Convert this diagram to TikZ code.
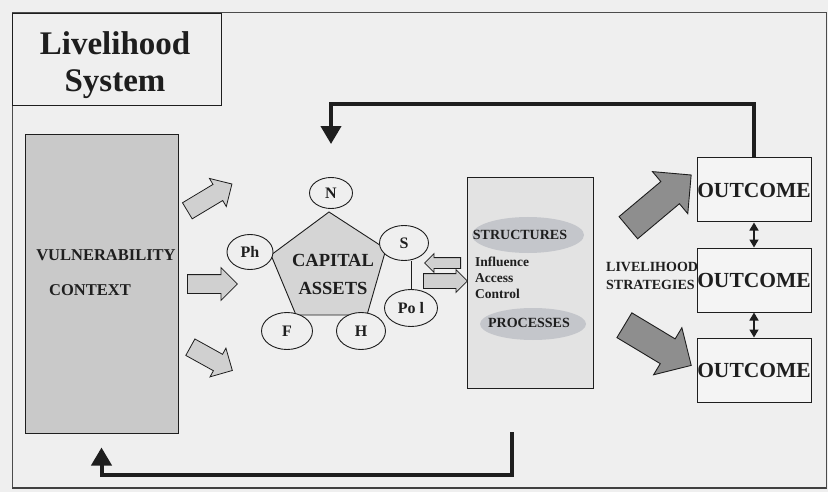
\documentclass[tikz,border=0pt]{standalone}
\usepackage{fontspec}
\setmainfont{Liberation Serif}
\usetikzlibrary{shapes.arrows,shapes.geometric,arrows.meta,calc}
\definecolor{bg}{HTML}{EFEFEF}
\definecolor{vulnfill}{HTML}{C9C9C9}
\definecolor{structfill}{HTML}{E3E3E3}
\definecolor{ellfill}{HTML}{C4C6CB}
\definecolor{pentfill}{HTML}{D5D5D5}
\definecolor{smallarrow}{HTML}{D0D0D0}
\definecolor{bigarrow}{HTML}{8E8E8E}
\definecolor{outfill}{HTML}{F4F4F4}
\definecolor{ink}{HTML}{1E1E1E}
\begin{document}
\begin{tikzpicture}[x=1pt,y=-1pt,
  every node/.style={inner sep=0pt, text=ink},
  fs/.style={font=\fontsize{#1}{#1}\selectfont\bfseries},
  asset/.style={ellipse, draw=ink, line width=0.9pt, fill=bg, fs=16},
  box/.style={draw=ink, line width=1pt},
  sarrow/.style={single arrow, draw=ink, line width=0.8pt, fill=smallarrow, minimum width=1pt, single arrow head extend=#1},
  barrow/.style={single arrow, draw=ink, line width=0.9pt, fill=bigarrow, minimum width=1pt, inner ysep=14pt, single arrow head extend=13pt},
  fb/.style={line width=4pt, draw=ink, -{Triangle[width=20pt,length=18pt]}},
  dbl/.style={line width=1.6pt, draw=ink, {Triangle[width=9pt,length=8pt]}-{Triangle[width=9pt,length=8pt]}}
]
\useasboundingbox (0,0) rectangle (828,492);
\fill[bg] (0,0) rectangle (828,492);

% outer frame and title box
\draw[line width=1pt, draw=ink!80] (12,13) rectangle (826,488);
\draw[line width=2.5pt, draw=ink!85] (12,488) -- (826,488);
\node[box, anchor=north west, minimum width=209pt, minimum height=92pt] (title) at (12,13) {};
\node[fs=33, anchor=base] (t1) at (115,55) {Livelihood};
\node[fs=33, anchor=base] (t2) at (115,92) {System};

% vulnerability context
\node[box, fill=vulnfill, minimum width=153pt, minimum height=298pt] (vuln) at (101.5,284) {};
\node[fs=16.5] (vt1) at (106,255) {VULNERABILITY};
\node[fs=16.5] (vt2) at (90,290) {CONTEXT};

% small arrows from vulnerability context
\node[sarrow=7pt, inner ysep=9pt, minimum height=52pt, rotate=31, anchor=tail] (va1) at (187,211) {};
\node[sarrow=7pt, inner ysep=9pt, minimum height=50pt, anchor=tail] (va2) at (187,284) {};
\node[sarrow=7pt, inner ysep=9pt, minimum height=48pt, rotate=-29, anchor=tail] (va3) at (190,347) {};

% capital assets pentagon
\coordinate (pA) at (329,212);
\coordinate (pB) at (271,255);
\coordinate (pC) at (296,315);
\coordinate (pD) at (367,315);
\coordinate (pE) at (386,249);
\filldraw[fill=pentfill, draw=ink, line width=0.9pt] (pA) -- (pB) -- (pC) -- (pD) -- (pE) -- cycle;
\node[fs=18.5] (cap1) at (333,260) {CAPITAL};
\node[fs=18.5] (cap2) at (333,288) {ASSETS};

\node[asset, minimum width=43pt, minimum height=31pt] (N) at (331,193) {N};
\node[asset, minimum width=46pt, minimum height=35pt] (Ph) at (250,252) {Ph};
\node[asset, minimum width=49pt, minimum height=35pt] (S) at (404,243) {S};
\node[asset, minimum width=51pt, minimum height=37pt] (F) at (287,331) {F};
\node[asset, minimum width=49pt, minimum height=37pt] (H) at (361,331) {H};
\node[asset, minimum width=53pt, minimum height=37pt] (Pol) at (411,308) {Po l};
\draw[line width=0.9pt, draw=ink] (Pol.north) -- (Pol.north |- S.south);

% structures and processes
\node[box, fill=structfill, minimum width=126pt, minimum height=210pt] (struct) at (530,283) {};
\node[ellipse, fill=ellfill, minimum width=112pt, minimum height=36pt] (sell) at (528,235) {};
\node[ellipse, fill=ellfill, minimum width=106pt, minimum height=32pt] (pell) at (533,324) {};
\node[fs=14] (stxt) at (520,235) {STRUCTURES};
\node[fs=14] (ptxt) at (529,323) {PROCESSES};
\node[fs=13.5, anchor=west] (infl) at (475,262) {Influence};
\node[fs=13.5, anchor=west] (acc) at (475,278) {Access};
\node[fs=13.5, anchor=west] (ctrl) at (475,294) {Control};

% arrows between assets and structures
\node[sarrow=4pt, inner ysep=5pt, minimum height=36pt, rotate=180, anchor=tail] (la) at (461,263) {};
\node[sarrow=4pt, inner ysep=7pt, minimum height=44pt, anchor=tail] (ra) at (423,281) {};

% livelihood strategies
\node[fs=14, anchor=west] (ls1) at (606,267) {LIVELIHOOD};
\node[fs=14, anchor=west] (ls2) at (606,285) {STRATEGIES};

% outcomes
\node[box, fill=outfill, minimum width=114pt, minimum height=64pt, fs=21.5] (out1) at (754,190) {OUTCOME};
\node[box, fill=outfill, minimum width=114pt, minimum height=64pt, fs=21.5] (out2) at (754,280) {OUTCOME};
\node[box, fill=outfill, minimum width=114pt, minimum height=64pt, fs=21.5] (out3) at (754,370) {OUTCOME};
\draw[dbl] (out1.south) -- (out2.north);
\draw[dbl] (out2.south) -- (out3.north);

% big arrows to outcomes
\node[barrow, minimum height=82pt, rotate=40, anchor=tail] (ba1) at (628,228) {};
\node[barrow, minimum height=78pt, rotate=-31, anchor=tail] (ba2) at (624,325) {};

% feedback loops
\draw[fb, shorten >=33pt] (out1.north) -- ++(0,-53) -| (N.north);
\coordinate (fbstart) at (512,432);
\draw[fb, shorten >=14pt] (fbstart) -- ++(0,43) -| (vuln.south);
\end{tikzpicture}
\end{document}
